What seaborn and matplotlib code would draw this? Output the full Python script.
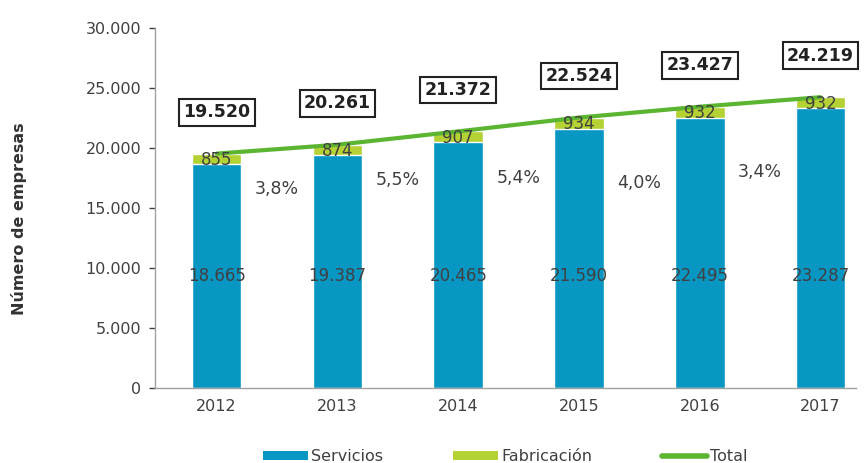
import matplotlib
import numpy as np
import pandas as pd
import seaborn as sns

matplotlib.use("Agg")
import matplotlib.pyplot as plt  # noqa: E402
from matplotlib.patches import Patch  # noqa: E402
from matplotlib.ticker import FuncFormatter  # noqa: E402

years = ["2012", "2013", "2014", "2015", "2016", "2017"]
servicios = [18665, 19387, 20465, 21590, 22495, 23287]
fabricacion = [855, 874, 907, 934, 932, 932]
total = [19520, 20261, 21372, 22524, 23427, 24219]
growth = ["3,8%", "5,5%", "5,4%", "4,0%", "3,4%"]
growth_y = [16600, 17300, 17500, 17100, 18000]

C_SERV = "#0896c3"
C_FAB = "#b4d234"
C_TOT = "#5cb531"
GREY = "#404040"


def fmt_es(v):
    return f"{int(v):,}".replace(",", ".")


df = pd.DataFrame({"year": years, "Servicios": servicios, "Fabricación": fabricacion, "Total": total})

sns.set_style("white")
fig, ax = plt.subplots(figsize=(8.66, 4.63), dpi=100)

# stacked: full height in green, services on top in blue
sns.barplot(data=df, x="year", y="Total", color=C_FAB, width=0.41, saturation=1, ax=ax)
sns.barplot(data=df, x="year", y="Servicios", color=C_SERV, width=0.41, saturation=1, ax=ax)

xs = np.arange(len(years))
ax.plot(xs, df["Total"], color=C_TOT, lw=3, zorder=3)

for i in xs:
    ax.text(i, 9300, fmt_es(servicios[i]), ha="center", va="center", fontsize=12, color=GREY)
    ax.text(i, servicios[i] + fabricacion[i] / 2 - 80, fmt_es(fabricacion[i]), ha="center",
            va="center", fontsize=12, color=GREY, zorder=4)
    ax.text(i, total[i] + 3450, fmt_es(total[i]), ha="center", va="center", fontsize=12.5,
            fontweight="bold", color="#222222",
            bbox=dict(boxstyle="square,pad=0.25", fc="white", ec="#222222", lw=1.5))

for i, g in enumerate(growth):
    ax.text(i + 0.5, growth_y[i], g, ha="center", va="center", fontsize=12.5, color=GREY)

ax.set_ylim(0, 30000)
ax.set_xlim(-0.51, 5.29)
ax.set_yticks(range(0, 30001, 5000))
ax.yaxis.set_major_formatter(FuncFormatter(lambda v, p: fmt_es(v)))
ax.tick_params(axis="both", colors=GREY, labelsize=11.5, length=4, width=1, direction="out")
ax.tick_params(axis="y", pad=6)
ax.tick_params(axis="x", length=0, pad=8)
ax.set_xticks(xs)
ax.set_xticklabels(years)
ax.set_xlabel("")
ax.set_ylabel("Número de empresas", fontsize=11.5, fontweight="bold", color="#333333")
ax.yaxis.set_label_coords(-0.183, 0.47)

for s in ["top", "right"]:
    ax.spines[s].set_visible(False)
for s in ["left", "bottom"]:
    ax.spines[s].set_color("#a0a0a0")
    ax.spines[s].set_linewidth(1)
ax.yaxis.set_ticks_position("left")

# x-axis minor ticks between categories
ax.set_xticks(np.arange(-0.5, 5.5, 1), minor=True)
ax.tick_params(axis="x", which="minor", length=4, color="#a0a0a0")

handles = [
    Patch(facecolor=C_SERV, edgecolor="none"),
    Patch(facecolor=C_FAB, edgecolor="none"),
    plt.Line2D([], [], color=C_TOT, lw=4),
]
leg = ax.legend(handles, ["Servicios", "Fabricación", "Total"], loc="upper center",
                bbox_to_anchor=(0.5, -0.13), ncol=3, frameon=False, fontsize=11.5,
                handlelength=2.8, handleheight=0.5, handletextpad=0.2, columnspacing=4.4)
for t in leg.get_texts():
    t.set_color(GREY)

fig.subplots_adjust(left=0.179, right=0.988, top=0.94, bottom=0.162)
fig.savefig("out.png", dpi=100)
